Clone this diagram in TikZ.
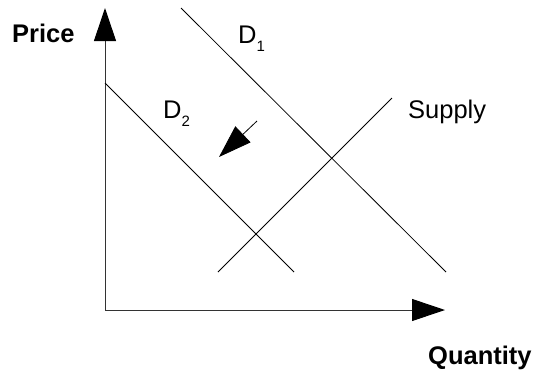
\documentclass[tikz,border=0pt]{standalone}
\usepackage{fontspec}
\setmainfont{Liberation Sans}
\usetikzlibrary{arrows.meta}
\newcommand{\lowsub}[1]{\raisebox{-8pt}{\fontsize{15}{15}\selectfont #1}}

\begin{document}
\begin{tikzpicture}[x=1pt,y=-1pt,>={Triangle[length=33pt,width=22pt,color=black]},
  curve/.style={line width=0.8pt},
  axis/.style={->,line width=1pt,draw=black!80},
  lbl/.style={anchor=base west,inner sep=0pt,font=\fontsize{25.5}{30}\selectfont}]
\useasboundingbox (0,0) rectangle (533,376);
\coordinate (O) at (105,310);
\coordinate (ytop) at (105,8);
\coordinate (xend) at (445,310);
\coordinate (d1a) at (181,8);
\coordinate (d1b) at (446,272);
\coordinate (d2a) at (105,83);
\coordinate (d2b) at (294,272);
\coordinate (sa) at (218,272);
\coordinate (sb) at (392,98);
\coordinate (shifta) at (257,121);
\coordinate (shiftb) at (219,157);
\draw[axis](O)--(ytop);
\draw[axis](O)--(xend);
\draw[curve](d1a)--(d1b);
\draw[curve](d2a)--(d2b);
\draw[curve](sa)--(sb);
\draw[->,curve](shifta)--(shiftb);
\node[lbl,font=\fontsize{25.5}{30}\selectfont\bfseries] (price) at (12,42) {Price};
\node[lbl,font=\fontsize{25.5}{30}\selectfont\bfseries] (qty) at (428,364) {Quantity};
\node[lbl] (supply) at (408,118) {Supply};
\node[lbl] (d1) at (238,43) {D\lowsub{1}};
\node[lbl] (d2) at (163,118) {D\lowsub{2}};
\end{tikzpicture}
\end{document}
